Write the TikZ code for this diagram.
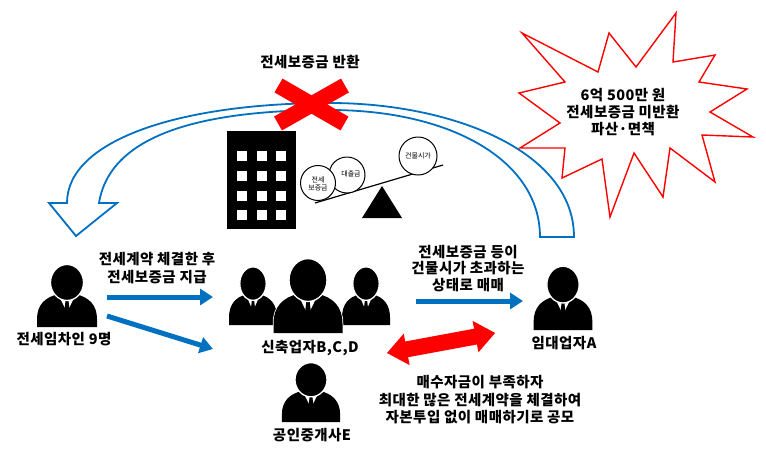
\documentclass[tikz,border=0pt]{standalone}
\usepackage{fontspec}
\newfontfamily\kr{Noto Sans CJK KR}[LetterSpace=3.0]
\newfontfamily\krs{Noto Sans CJK KR}
\usetikzlibrary{arrows.meta}
\definecolor{myblue}{RGB}{0,112,192}
\definecolor{myred}{RGB}{255,0,0}
\begin{document}
\begin{tikzpicture}[x=1pt,y=-1pt,
  lbl/.style={font=\kr\bfseries\fontsize{14.5}{17}\selectfont, align=center, inner sep=0pt},
  small/.style={font=\krs\fontsize{7}{8}\selectfont, align=center, inner sep=0pt},
  bluearrow/.style={draw=myblue, line width=5pt, -{Triangle[length=13pt,width=16pt]}},
  coin/.style={draw=black, line width=1pt, fill=white},
  person/.pic={
    \fill[black] (-30,0) -- (-30,-8) .. controls (-30,-22) and (-22,-30) .. (-8,-33)
       -- (8,-33) .. controls (22,-30) and (30,-22) .. (30,-8) -- (30,0) -- cycle;
    \fill[white] (-8.5,-32) -- (0,-15) -- (8.5,-32) -- cycle;
    \fill[black] (-2.5,-30) -- (2.5,-30) -- (1.5,-26) -- (3,-14) -- (0,-10) -- (-3,-14) -- (-1.5,-26) -- cycle;
    \filldraw[fill=black, draw=white, line width=1.3pt] (0,-44.5) ellipse [x radius=16.5, y radius=18];
  }
]
\useasboundingbox[fill=white] (0,0) rectangle (766,461);

% curved block arrow (band)
\draw[myblue, line width=1.8pt, fill=white, line join=miter]
  (540,237) -- (574,237)
  .. controls (574,150) and (450,103) .. (330,103)
  .. controls (180,103) and (67,140) .. (67,203)
  -- (49,203) -- (76,236) -- (117,203) -- (99,203)
  .. controls (110,135) and (200,110) .. (330,110)
  .. controls (450,110) and (540,160) .. (540,237) -- cycle;

% red X
\draw[myred, line width=16pt] (278.5,85.5) -- (344.5,123.5);
\draw[myred, line width=16pt] (345,85.5) -- (278,123.5);
\node[lbl] (title) at (310,62) {전세보증금 반환};

% building
\fill[black] (227,131) rectangle (296,229);
\foreach \cx in {242,262,281}{
  \foreach \cy in {156,176,196,215}{
    \fill[white] (\cx-5,\cy-5) rectangle (\cx+5,\cy+5);
  }
}

% seesaw
\fill[black] (362,218) -- (402,218) -- (382,186) -- cycle;
\draw[black, line width=1.2pt] (315,203) -- (443,165);
\node[coin, circle, minimum size=36pt, inner sep=0pt] (loan) at (347,175) {};
\node[small] at (351,174) {대출금};
\node[coin, circle, minimum size=35pt, inner sep=0pt] (deposit) at (318,183) {};
\node[small] at (318,184) {전세\\보증금};
\node[coin, circle, minimum size=38pt, inner sep=0pt] (value) at (418,156) {};
\node[small] at (418,156) {건물시가};

% starburst
\draw[myred, line width=1.4pt, fill=white, line join=miter]
  (522,33) -- (598,72) -- (609,33) -- (636,67) -- (676,13) -- (673,62) -- (715,55)
  -- (699,82) -- (747,89) -- (710,112) -- (753,137) -- (702,135) -- (715,182)
  -- (670,148) -- (663,197) -- (634,153) -- (610,217) -- (602,159) -- (562,178)
  -- (565,148) -- (520,148) -- (560,123) -- (519,93) -- (565,82) -- cycle;
\node[lbl] (burst) at (623,112) {6억 500만 원\\전세보증금 미반환\\파산·면책};

% persons
\pic at (67,327) {person};
\node[lbl] (tenant) at (64,339) {전세임차인 9명};

\pic[xscale=0.8, yscale=0.93] at (253,325) {person};
\pic[xscale=0.8, yscale=0.93] at (366,325) {person};
\begin{scope}[shift={(308,333)}, xscale=1.15, yscale=1.19]
  \draw[white, line width=1.5pt] (-30,0) -- (-30,-8) .. controls (-30,-22) and (-22,-30) .. (-8,-33)
       -- (8,-33) .. controls (22,-30) and (30,-22) .. (30,-8) -- (30,0);
\end{scope}
\pic[xscale=1.15, yscale=1.19] at (308,333) {person};
\node[lbl] (builders) at (310,348) {신축업자B,C,D};

\pic[xscale=0.97, yscale=0.95] at (311,422) {person};
\node[lbl] (broker) at (312,435) {공인중개사E};

\pic[xscale=0.98, yscale=1.02] at (563,330) {person};
\node[lbl] (lessor) at (564,343) {임대업자A};

% blue arrows
\coordinate (a1s) at (107,297);
\coordinate (a1e) at (213,297);
\coordinate (a2s) at (107,316);
\coordinate (a2e) at (213,349);
\coordinate (a3s) at (416,301);
\coordinate (a3e) at (523,301);
\draw[bluearrow] (a1s) -- (a1e);
\draw[bluearrow] (a2s) -- (a2e);
\draw[bluearrow] (a3s) -- (a3e);
\node[lbl, font=\kr\bfseries\fontsize{14.5}{18}\selectfont] (lab1) at (157,268) {전세계약 체결한 후\\전세보증금 지급};
\node[lbl, font=\kr\bfseries\fontsize{14.5}{16.5}\selectfont] (lab3) at (468,268.5) {전세보증금 등이\\건물시가 초과하는\\상태로 매매};

% red double arrow
\coordinate (r1) at (387,353);
\begin{scope}[shift={(r1)}, rotate=10.5]
  \fill[myred] (0,0) -- (20,-16) -- (20,-8) -- (90,-8) -- (90,-16) -- (110,0)
    -- (90,16) -- (90,8) -- (20,8) -- (20,16) -- cycle;
\end{scope}
\node[lbl, font=\kr\bfseries\fontsize{14.5}{17.5}\selectfont] (lab4) at (480,400) {매수자금이 부족하자\\최대한 많은 전세계약을 체결하여\\자본투입 없이 매매하기로 공모};
\end{tikzpicture}
\end{document}
